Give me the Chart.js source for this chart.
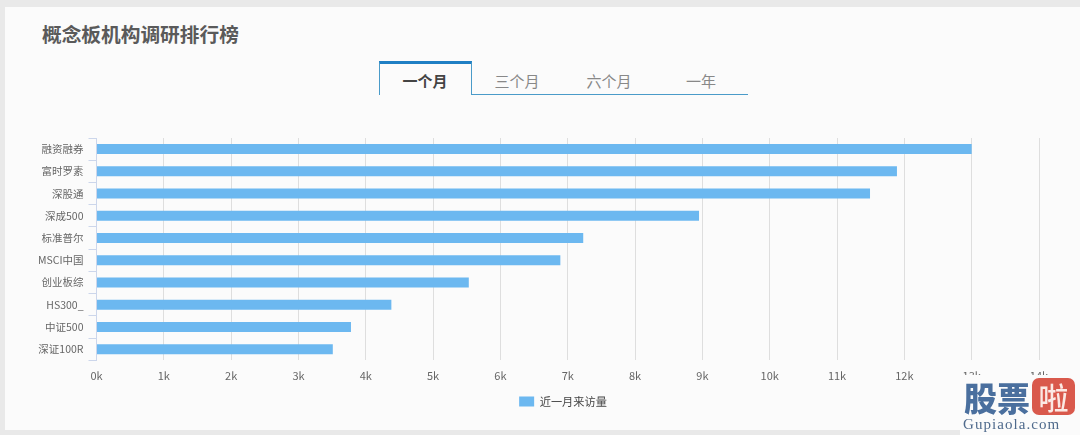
<!DOCTYPE html>
<html>
<head>
<meta charset="utf-8">
<script src="https://cdn.jsdelivr.net/npm/chart.js@4"></script>
<style>
html,body{margin:0;padding:0;width:1080px;height:435px;overflow:hidden;background:#e9e9e9;font-family:"Noto Sans CJK SC",sans-serif}
#panel{position:absolute;left:5px;top:7px;width:1075px;height:423px;background:#fbfbfb}
#title{position:absolute;left:42px;top:21px;font-size:19.7px;line-height:26px;font-weight:bold;color:#5a5a5a}
.tab{position:absolute;top:69px;width:92px;text-align:center;font-size:15px;line-height:24px;color:#888}
#tab0{left:379px;font-weight:bold;color:#444}
#tab1{left:471px}
#tab2{left:563px}
#tab3{left:655px}
#tabBox{position:absolute;left:379px;top:61px;width:91px;height:31px;border:1px solid #4a9bc9;border-top:3px solid #1f7fc4;border-bottom:none}
#tabLine{position:absolute;left:471px;top:94px;width:277px;height:1px;background:#4a9bc9}
#chartWrap{position:absolute;left:0;top:0;width:1080px;height:435px}
#logo{position:absolute;left:960px;top:375px;width:120px;height:60px;background:#fbfbfb}
#logo span{position:absolute;top:3px;font-size:33px;line-height:38px;font-weight:900;color:#4a6f9e}
#logo #la{left:72px;top:3px;width:43px;height:37px;font-size:30px;line-height:37px;text-align:center;background:#d9594c;color:#fbe9e4;border-radius:7px;font-weight:500}
#logo #site{left:3px;top:40px;font-family:"Liberation Serif",serif;font-size:15px;line-height:18px;letter-spacing:1.05px;font-weight:normal;color:#4f6a8c}
</style>
</head>
<body>
<div id="panel"></div>
<div id="title">概念板机构调研排行榜</div>
<div id="tabBox"></div>
<div id="tabLine"></div>
<div class="tab" id="tab0">一个月</div>
<div class="tab" id="tab1">三个月</div>
<div class="tab" id="tab2">六个月</div>
<div class="tab" id="tab3">一年</div>
<div id="chartWrap"><canvas id="chart" width="1080" height="435"></canvas></div>
<div id="logo"><span style="left:4px">股票</span><span id="la">啦</span><span id="site">Gupiaola.com</span></div>
<script>
const categories = ["融资融券","富时罗素","深股通","深成500","标准普尔","MSCI中国","创业板综","HS300_","中证500","深证100R"]
const visits = [13000,11890,11490,8950,7230,6890,5530,4380,3780,3510]
const seriesName = "近一月来访量"

const fontFamily = '"Noto Sans CJK SC", sans-serif'

// legend sits centred under the plot area, not under the whole canvas
const legendShift = {
    id: "legendShift",
    afterLayout(chart) {
        chart.legend.left += 43.5
        chart.legend.right += 43.5
    }
}

new Chart(document.getElementById("chart").getContext("2d"), {
    type: "bar",
    data: {
        labels: categories,
        datasets: [{
            label: seriesName,
            data: visits,
            backgroundColor: "#6cb8f0",
            borderWidth: 0,
            barPercentage: 0.45,
            categoryPercentage: 1
        }]
    },
    plugins: [legendShift],
    options: {
        indexAxis: "y",
        animation: false,
        responsive: false,
        layout: { padding: { top: 138, right: 41, bottom: 18, left: 0 } },
        scales: {
            x: {
                min: 0,
                max: 14000,
                ticks: {
                    stepSize: 1000,
                    maxRotation: 0,
                    autoSkip: false,
                    padding: 9,
                    color: "#666",
                    font: { family: fontFamily, size: 11 },
                    callback: v => (v / 1000) + "k"
                },
                grid: { color: "#dedede", lineWidth: 1, drawTicks: false },
                border: { display: false },
                afterFit: s => { s.height = 30.5 }
            },
            y: {
                ticks: {
                    padding: 5,
                    color: "#666",
                    autoSkip: false,
                    font: { family: fontFamily, size: 10.5 }
                },
                grid: { drawOnChartArea: false, color: "#ccd6eb", tickLength: 8, offset: true },
                border: { color: "#ccd6eb" },
                afterFit: s => { s.width = 96.5 }
            }
        },
        plugins: {
            legend: {
                position: "bottom",
                labels: {
                    boxWidth: 15,
                    boxHeight: 10,
                    padding: 5,
                    color: "#444",
                    font: { family: fontFamily, size: 11.2 }
                }
            },
            tooltip: { enabled: false }
        }
    }
})
</script>
</body>
</html>
